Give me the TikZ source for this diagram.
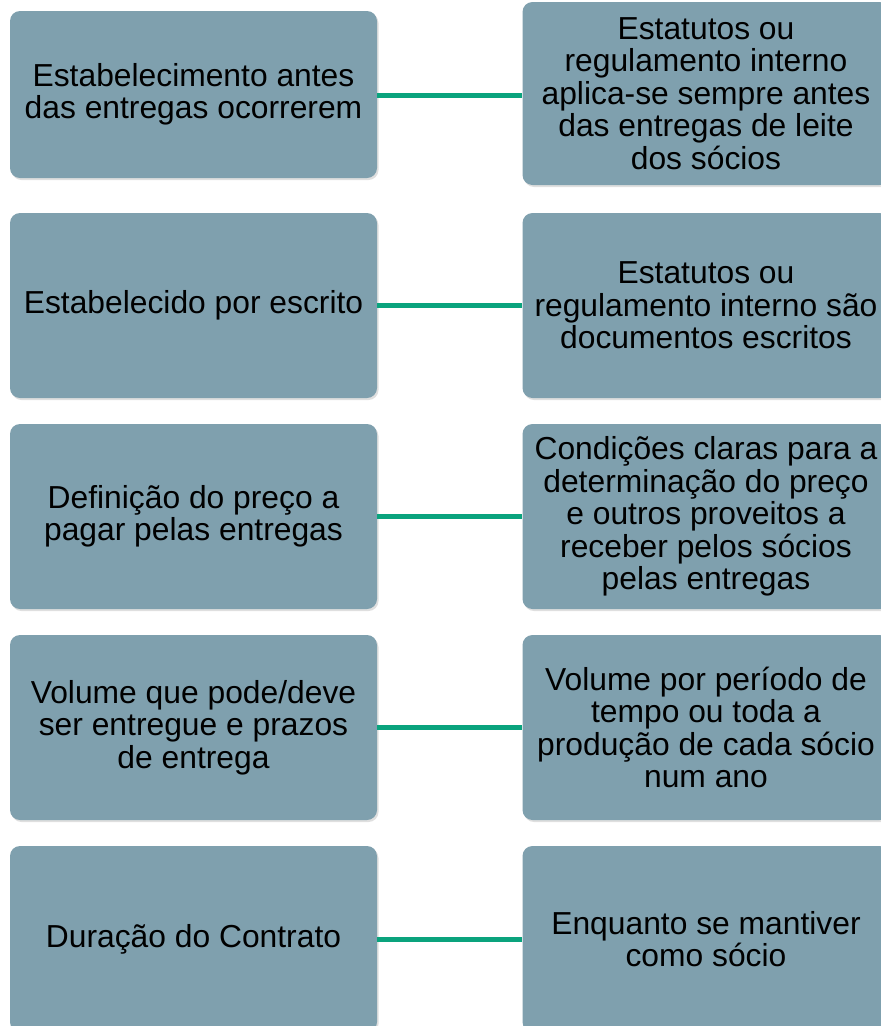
\documentclass[tikz,border=0pt]{standalone}
\usepackage{fontspec}
\setmainfont{Liberation Sans}
\usetikzlibrary{shadows}
\definecolor{boxfill}{RGB}{127,160,174}
\definecolor{linkgreen}{RGB}{10,163,125}
\begin{document}
\begin{tikzpicture}[x=1pt,y=-1pt,
  card/.style={rectangle, rounded corners=10pt, fill=boxfill, draw=none,
    drop shadow={opacity=0.25, shadow xshift=1.5pt, shadow yshift=-2pt},
    minimum width=367pt, inner sep=0pt, align=center,
    font=\fontsize{31.8}{32.5}\selectfont, text=black},
  link/.style={draw=linkgreen, line width=5pt}]
\useasboundingbox (0,0) rectangle (881,1026);
\fill[white] (0,0) rectangle (881,1026);
\begin{scope}
\clip (0,0) rectangle (881,1026);
% row 1
\node[card, minimum height=167pt] (l1) at (193.5,94.5) {Estabelecimento antes\\das entregas ocorrerem};
\node[card, minimum height=183pt] (r1) at (706,93.5) {Estatutos ou\\regulamento interno\\aplica-se sempre antes\\das entregas de leite\\dos sócios};
% row 2
\node[card, minimum height=185pt] (l2) at (193.5,305.5) {Estabelecido por escrito};
\node[card, minimum height=185pt] (r2) at (706,305.5) {Estatutos ou\\regulamento interno são\\documentos escritos};
% row 3
\node[card, minimum height=185pt] (l3) at (193.5,516.5) {Definição do preço a\\pagar pelas entregas};
\node[card, minimum height=185pt] (r3) at (706,516.5) {Condições claras para a\\determinação do preço\\e outros proveitos a\\receber pelos sócios\\pelas entregas};
% row 4
\node[card, minimum height=185pt] (l4) at (193.5,727.5) {Volume que pode/deve\\ser entregue e prazos\\de entrega};
\node[card, minimum height=185pt] (r4) at (706,727.5) {Volume por período de\\tempo ou toda a\\produção de cada sócio\\num ano};
% row 5
\node[card, minimum height=186pt] (l5) at (193.5,939) {Duração do Contrato};
\node[card, minimum height=186pt] (r5) at (706,939) {Enquanto se mantiver\\como sócio};
\end{scope}
% connectors
\draw[link] (l1.east |- 0,95) -- (r1.west |- 0,95);
\draw[link] (l2) -- (r2);
\draw[link] (l3) -- (r3);
\draw[link] (l4) -- (r4);
\draw[link] (l5) -- (r5);
\end{tikzpicture}
\end{document}
